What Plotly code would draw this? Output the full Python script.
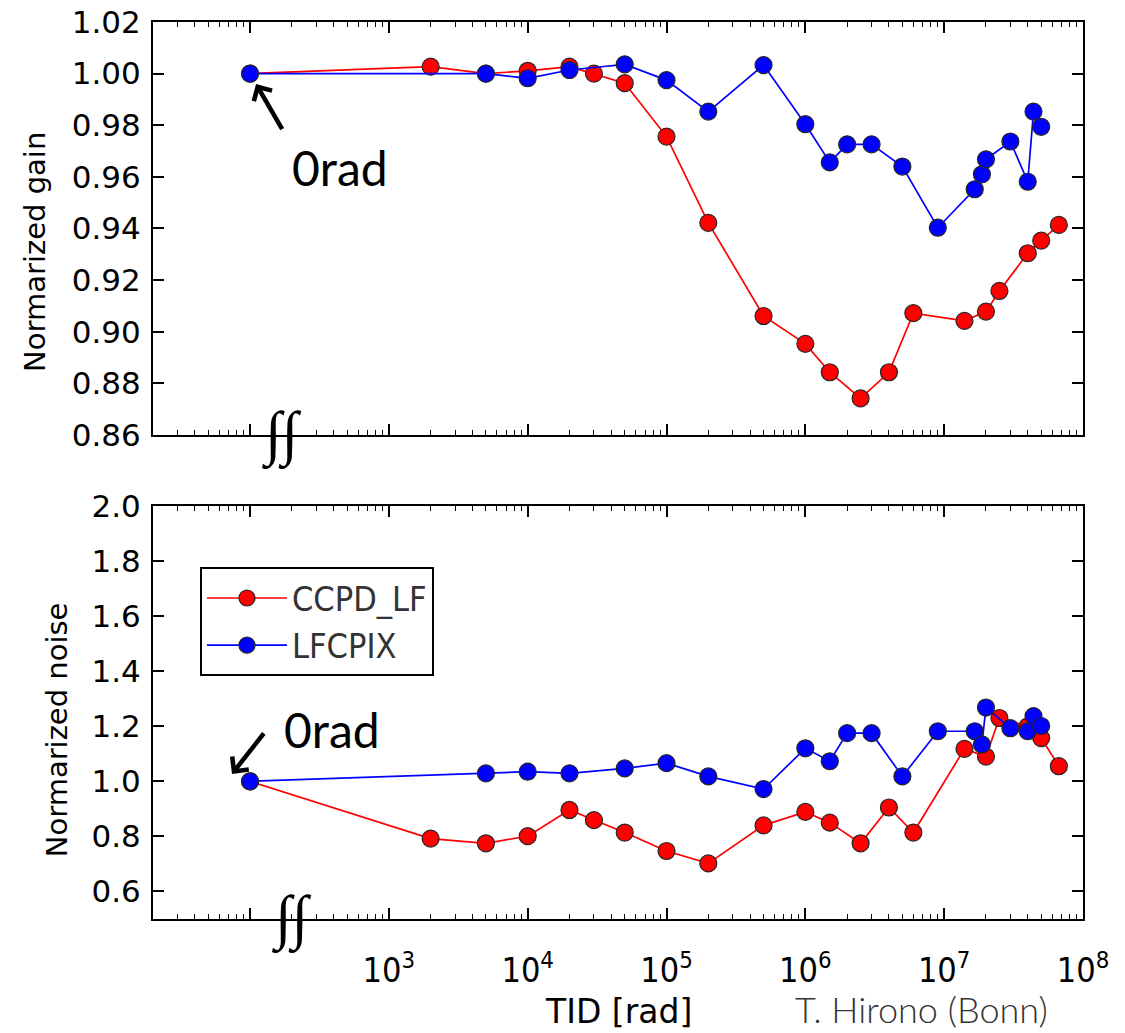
import plotly.graph_objects as go
from plotly.subplots import make_subplots
import math

# ---------------- data ----------------
ccpd_x = [100, 2000, 5000, 1e4, 2e4, 3e4, 5e4, 1e5, 2e5, 5e5, 1e6, 1.5e6, 2.5e6,
          4e6, 6e6, 1.4e7, 2e7, 2.5e7, 4e7, 5e7, 6.7e7]
ccpd_gain = [1.000, 1.0027, 1.000, 1.0011, 1.0027, 1.000, 0.9963, 0.9756, 0.9422, 0.9061,
             0.8953, 0.8843, 0.8742, 0.8843, 0.9072, 0.9042, 0.9078, 0.9158, 0.9304,
             0.9353, 0.9414]
ccpd_noise = [1.000, 0.792, 0.775, 0.801, 0.896, 0.859, 0.814, 0.747, 0.702, 0.840,
              0.889, 0.850, 0.775, 0.905, 0.814, 1.118, 1.090, 1.230, 1.200, 1.157, 1.055]

lfcpix_x = [100, 5000, 1e4, 2e4, 5e4, 1e5, 2e5, 5e5, 1e6, 1.5e6, 2e6, 3e6, 5e6, 9e6,
            1.66e7, 1.87e7, 2e7, 3e7, 4e7, 4.4e7, 5e7]
lfcpix_gain = [1.000, 1.000, 0.9982, 1.0014, 1.0036, 0.9975, 0.9853, 1.0033, 0.9804,
               0.9656, 0.9726, 0.9726, 0.964, 0.9403, 0.9552, 0.961, 0.9668, 0.9737,
               0.9581, 0.9853, 0.9794]
lfcpix_noise = [1.000, 1.029, 1.035, 1.029, 1.047, 1.066, 1.018, 0.972, 1.120, 1.073,
                1.175, 1.175, 1.018, 1.182, 1.182, 1.134, 1.268, 1.193, 1.182, 1.237,
                1.201]

x_tickvals = [1e2, 1e3, 1e4, 1e5, 1e6, 1e7, 1e8]
x_ticktext = ["", "10<sup>3</sup>", "10<sup>4</sup>", "10<sup>5</sup>",
              "10<sup>6</sup>", "10<sup>7</sup>", "10<sup>8</sup>"]
gain_ticks = [0.86, 0.88, 0.90, 0.92, 0.94, 0.96, 0.98, 1.00, 1.02]
noise_ticks = [0.6, 0.8, 1.0, 1.2, 1.4, 1.6, 1.8, 2.0]

RED = "#ff0000"
BLUE = "#0000ff"
NARROW = "Liberation Sans Narrow, DejaVu Sans Condensed, Liberation Sans"

fig = make_subplots(rows=2, cols=1, vertical_spacing=0.0792)

def add_series(x, y, color, name, row, show):
    fig.add_trace(go.Scatter(
        x=x, y=y, mode="lines+markers", name=name, showlegend=show,
        line=dict(color=color, width=1.7),
        marker=dict(color=color, size=17, line=dict(color="#262626", width=1.2)),
    ), row=row, col=1)

add_series(ccpd_x, ccpd_gain, RED, "CCPD_LF", 1, False)
add_series(lfcpix_x, lfcpix_gain, BLUE, "LFCPIX", 1, False)
add_series(ccpd_x, ccpd_noise, RED, "CCPD_LF", 2, True)
add_series(lfcpix_x, lfcpix_noise, BLUE, "LFCPIX", 2, True)

minor_vals = [k * 10 ** d for d in range(1, 8) for k in range(2, 10) if k * 10 ** d >= 20]

xcommon = dict(
    type="log", range=[math.log10(20), 8], automargin=False,
    tickmode="array", tickvals=x_tickvals, ticktext=x_ticktext,
    ticks="inside", ticklen=11, tickwidth=1.5, tickcolor="black",
    minor=dict(tickmode="array", tickvals=minor_vals, ticks="inside",
               ticklen=5, tickwidth=1.2, tickcolor="black", showgrid=False),
    showline=True, linecolor="black", linewidth=2, mirror="allticks",
    showgrid=False, zeroline=False,
    tickfont=dict(family=NARROW, size=34, color="black"),
)
fig.update_xaxes(**xcommon)
fig.update_xaxes(showticklabels=False, row=1, col=1)
fig.update_xaxes(ticklabelstandoff=20, row=2, col=1)

ycommon = dict(
    automargin=False,
    ticks="inside", ticklen=11, tickwidth=1.5, tickcolor="black",
    showline=True, linecolor="black", linewidth=2, mirror="allticks",
    showgrid=False, zeroline=False,
    tickfont=dict(family="DejaVu Sans", size=31, color="black"),
    ticklabelstandoff=4,
)
fig.update_yaxes(**ycommon)
fig.update_yaxes(range=[0.86, 1.02], tickmode="array", tickvals=gain_ticks,
                 ticktext=[f"{v:.2f}" for v in gain_ticks], row=1, col=1)
fig.update_yaxes(range=[0.5, 2.0], tickmode="array", tickvals=noise_ticks,
                 ticktext=[f"{v:.1f}" for v in noise_ticks], row=2, col=1)

annots = []
# y-axis titles
annots.append(dict(text="Normarized gain", xref="paper", yref="paper", x=-0.127, y=0.7436,
                   textangle=-90, showarrow=False, xanchor="center", yanchor="middle",
                   font=dict(family="DejaVu Sans", size=29, color="black")))
annots.append(dict(text="Normarized noise", xref="paper", yref="paper", x=-0.103, y=0.2107,
                   textangle=-90, showarrow=False, xanchor="center", yanchor="middle",
                   font=dict(family="DejaVu Sans", size=29, color="black")))
# x-axis title and credit
annots.append(dict(text="TID [rad]", xref="paper", yref="paper", x=0.5, y=-0.1026,
                   showarrow=False, xanchor="center", yanchor="middle",
                   font=dict(family="DejaVu Sans", size=33, color="black")))
annots.append(dict(text="T. Hirono (Bonn)", xref="paper", yref="paper", x=0.826, y=-0.1003,
                   showarrow=False, xanchor="center", yanchor="middle",
                   font=dict(family="Lato", size=36, color="#333333", weight=300)))
# 0rad arrows and labels
annots.append(dict(text="", xref="x", yref="y", x=2, y=1.0, ax=33, ay=57,
                   showarrow=True, arrowhead=4, arrowsize=0.9, arrowwidth=4.5,
                   arrowcolor="black", standoff=12))
annots.append(dict(text="0rad", xref="x", yref="y", x=2.65, y=0.9635, showarrow=False,
                   font=dict(family="Lato", size=48, color="black")))
annots.append(dict(text="", xref="x2", yref="y2", x=1.87, y=1.027, ax=33, ay=-42,
                   showarrow=True, arrowhead=4, arrowsize=0.9, arrowwidth=4.5,
                   arrowcolor="black", standoff=0))
annots.append(dict(text="0rad", xref="x2", yref="y2", x=2.59, y=1.19, showarrow=False,
                   font=dict(family="Lato", size=48, color="black")))
# axis break marks
annots.append(dict(text="∫∫", xref="x", yref="paper", x=2.224, y=0.5396, showarrow=False,
                   xanchor="center", yanchor="middle",
                   font=dict(family="Liberation Serif", size=60, color="black")))
annots.append(dict(text="∫∫", xref="x2", yref="paper", x=2.296, y=0.0, showarrow=False,
                   xanchor="center", yanchor="middle",
                   font=dict(family="Liberation Serif", size=60, color="black")))

fig.update_layout(
    width=1125, height=1033,
    margin=dict(l=153, r=42, t=22, b=114, autoexpand=False),
    paper_bgcolor="white", plot_bgcolor="white",
    annotations=annots,
    legend=dict(x=0.0505, y=0.392, xanchor="left", yanchor="top",
                bordercolor="black", borderwidth=2, bgcolor="white",
                font=dict(family=NARROW, size=34, color="#333333"),
                itemwidth=80),
)
fig.update_yaxes(domain=[0.5396, 1.0], row=1, col=1)
fig.update_yaxes(domain=[0.0, 0.4604], row=2, col=1)

fig.write_html("out.html")
